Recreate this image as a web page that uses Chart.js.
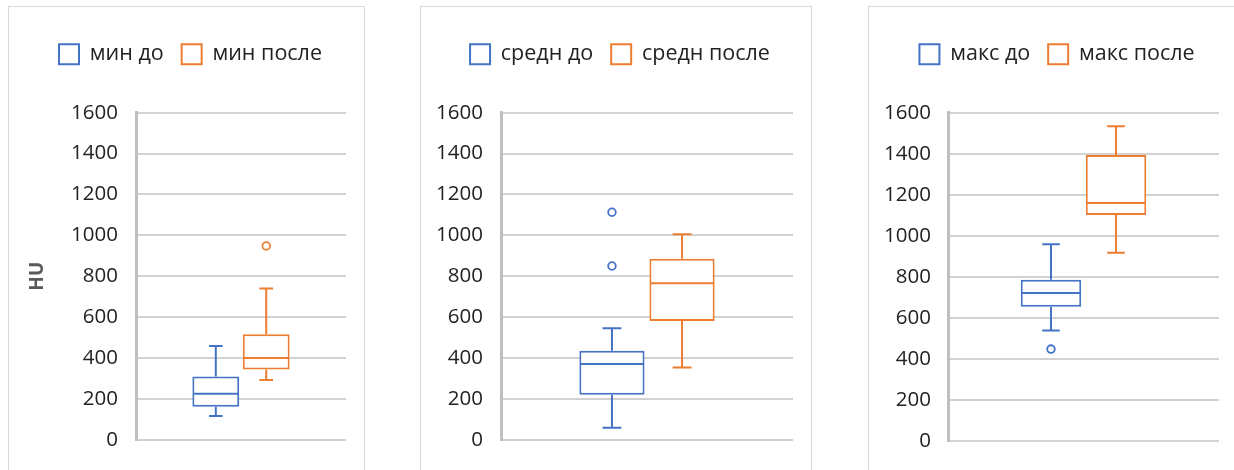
<!DOCTYPE html>
<html>
<head>
<meta charset="utf-8">
<script src="https://cdn.jsdelivr.net/npm/chart.js@4.4.1/dist/chart.umd.min.js"></script>
<style>
  html, body { margin: 0; padding: 0; background: #fff; width: 1234px; height: 470px; overflow: hidden; position: relative; }
  .frame { position: absolute; top: 6px; height: 480px; border: 1px solid #d9d9d9; box-sizing: border-box; background: #fff; }
  canvas { position: absolute; top: 6px; }
</style>
</head>
<body>
<div class="frame" style="left:8px; width:357px;"></div>
<div class="frame" style="left:420px; width:392px;"></div>
<div class="frame" style="left:868px; width:380px;"></div>
<canvas id="chartMin" width="356" height="464" style="left:8px;"></canvas>
<canvas id="chartSredn" width="391" height="464" style="left:420px;"></canvas>
<canvas id="chartMaks" width="366" height="464" style="left:868px;"></canvas>
<script>
// Shared value axis
const yMin = 0;
const yMax = 1600;
const yStep = 200;
const groups = [''];

// Five-number summaries: lower whisker, Q1, median, Q3, upper whisker (HU)
const minDo      = [116, 161, 225, 309, 458];
const minPosle   = [292, 343, 400, 516, 740];
const srednDo    = [58, 220, 370, 435, 545];
const srednPosle = [353, 581, 765, 885, 1005];
const maksDo     = [537, 653, 720, 785, 958];
const maksPosle  = [917, 1101, 1160, 1394, 1534];

// Points beyond the whiskers
const minDoOut      = [];
const minPosleOut   = [948];
const srednDoOut    = [850, 1113];
const srednPosleOut = [];
const maksDoOut     = [447];
const maksPosleOut  = [];

// Series names
const minLabels   = ['мин до', 'мин после'];
const srednLabels = ['средн до', 'средн после'];
const maksLabels  = ['макс до', 'макс после'];

const BLUE = '#4472C4';
const ORANGE = '#ED7D31';
const FONT = '"Open Sans", "DejaVu Sans", sans-serif';

// Whiskers, median line and outlier circles, positioned from each box element
const boxWhiskers = {
  id: 'boxWhiskers',
  afterDatasetsDraw(chart) {
    const ctx = chart.ctx;
    const y = chart.scales.y;
    const yp = v => y.getPixelForValue(v);
    chart.data.datasets.forEach((ds, i) => {
      const bar = chart.getDatasetMeta(i).data[0];
      const [lo, q1, med, q3, hi] = ds.stats;
      const half = bar.width / 2;
      const cap = bar.width * 0.145;
      ctx.save();
      ctx.strokeStyle = ds.borderColor;
      ctx.lineWidth = 2;
      ctx.beginPath();
      ctx.moveTo(bar.x, yp(q3)); ctx.lineTo(bar.x, yp(hi));
      ctx.moveTo(bar.x - cap, yp(hi)); ctx.lineTo(bar.x + cap, yp(hi));
      ctx.moveTo(bar.x, yp(q1)); ctx.lineTo(bar.x, yp(lo));
      ctx.moveTo(bar.x - cap, yp(lo)); ctx.lineTo(bar.x + cap, yp(lo));
      ctx.moveTo(bar.x - half + 1, yp(med)); ctx.lineTo(bar.x + half - 1, yp(med));
      ctx.stroke();
      ctx.lineWidth = 1.8;
      ds.outliers.forEach(v => {
        ctx.beginPath();
        ctx.arc(bar.x, yp(v), 3.8, 0, Math.PI * 2);
        ctx.stroke();
      });
      ctx.restore();
    });
  }
};

// Extra space between the legend row and the plot area
const legendGap = {
  id: 'legendGap',
  afterInit(chart, args, opts) {
    const legend = chart.legend;
    if (!legend) return;
    const fit = legend.fit;
    legend.fit = function () {
      fit.call(this);
      this.height += opts.extra || 0;
    };
  },
  // let the value labels run past the narrow axis box
  afterLayout(chart) {
    const y = chart.scales.y;
    if (y) y._computeLabelArea = () => null;
  }
};

function boxDataset(label, stats, outliers, color) {
  return {
    label,
    data: [[stats[1], stats[3]]],
    stats,
    outliers,
    borderColor: color,
    backgroundColor: '#ffffff',
    borderWidth: 2,
    borderSkipped: false,
    categoryPercentage: 0.48,
    barPercentage: 0.93
  };
}

function makeChart(id, labels, before, beforeOut, after, afterOut, layout) {
  return new Chart(document.getElementById(id), {
    type: 'bar',
    data: {
      labels: groups,
      datasets: [
        boxDataset(labels[0], before, beforeOut, BLUE),
        boxDataset(labels[1], after, afterOut, ORANGE)
      ]
    },
    options: {
      responsive: false,
      animation: false,
      events: [],
      layout: { padding: layout.padding },
      scales: {
        x: { display: false },
        y: {
          min: yMin,
          max: yMax,
          afterFit: scale => { scale.width = layout.axisWidth; },
          ticks: {
            stepSize: yStep,
            padding: layout.tickPad,
            color: '#222222',
            font: { family: FONT, size: 20.5 },
            callback: v => String(v)
          },
          grid: { color: '#d2d2d2', lineWidth: 2, drawTicks: false },
          border: { display: true, color: '#bfbfbf', width: 3 },
          title: layout.title || { display: false }
        }
      },
      plugins: {
        tooltip: { enabled: false },
        legendGap: { extra: layout.legendExtra },
        legend: {
          position: 'top',
          labels: {
            boxWidth: 20,
            boxHeight: 20,
            padding: 18,
            color: '#222222',
            font: { family: FONT, size: 21.5 }
          }
        }
      }
    },
    plugins: [legendGap, boxWhiskers]
  });
}

makeChart('chartMin', minLabels, minDo, minDoOut, minPosle, minPosleOut, {
  padding: { top: 19.5, left: 27, right: 18, bottom: 26.7 },
  axisWidth: 101,
  tickPad: 18,
  legendExtra: 37.7,
  title: {
    display: true,
    text: 'HU',
    color: '#595959',
    font: { family: FONT, size: 19, weight: 'bold', lineHeight: 1 },
    padding: { top: -6.5, bottom: 0 }
  }
});

makeChart('chartSredn', srednLabels, srednDo, srednDoOut, srednPosle, srednPosleOut, {
  padding: { top: 19.5, left: 27, right: 18, bottom: 28.3 },
  axisWidth: 54,
  tickPad: 18,
  legendExtra: 37.7
});

makeChart('chartMaks', maksLabels, maksDo, maksDoOut, maksPosle, maksPosleOut, {
  padding: { top: 19.5, left: 27, right: 15, bottom: 25.7 },
  axisWidth: 53,
  tickPad: 17,
  legendExtra: 37.7
});
</script>
</body>
</html>
